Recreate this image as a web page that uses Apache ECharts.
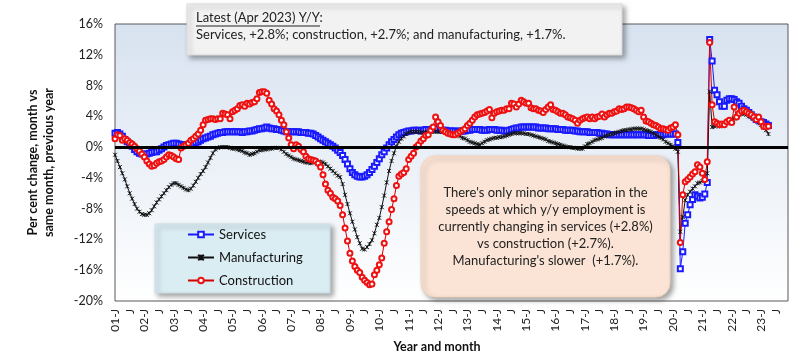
<!DOCTYPE html>
<html><head><meta charset="utf-8">
<script src="https://cdn.jsdelivr.net/npm/echarts@6/dist/echarts.min.js"></script>
<style>html,body{margin:0;padding:0;background:#fff}#c{width:800px;height:359px}</style>
</head><body><div id="c"></div>
<script>
// Months Jan 2001 .. Dec 2023 (axis range); data runs Jan 2001 .. Apr 2023
const categories = [];
for (let y = 2001; y <= 2023; y++) for (let m = 1; m <= 12; m++) categories.push(y + '-' + String(m).padStart(2, '0'));

// one label every 6 months (Jan / Jul)
const tickLabels = ['01-J','J','02-J','J','03-J','J','04-J','J','05-J','J','06-J','J','07-J','J','08-J','J',
  '09-J','J','10-J','J','11-J','J','12-J','J','13-J','J','14-J','J','15-J','J','16-J','J','17-J','J',
  '18-J','J','19-J','J','20-J','J','21-J','J','22-J','J','23-J','J'];

const services = [
  1.8, 1.9, 1.7, 1.4, 1.0, 0.7, 0.4, 0.1, -0.3, -0.6, -0.8, -0.9,
  -1.0, -0.9, -0.8, -0.7, -0.6, -0.6, -0.4, -0.2, 0.0, 0.2, 0.3, 0.4,
  0.5, 0.5, 0.4, 0.3, 0.3, 0.2, 0.3, 0.3, 0.4, 0.6, 0.7, 0.9,
  1.1, 1.2, 1.3, 1.4, 1.6, 1.7, 1.8, 1.9, 1.9, 2.0, 2.0, 2.0,
  2.0, 2.0, 2.0, 2.0, 1.9, 2.0, 2.0, 2.1, 2.1, 2.2, 2.3, 2.4,
  2.4, 2.5, 2.6, 2.5, 2.4, 2.4, 2.3, 2.3, 2.2, 2.1, 2.0, 2.0,
  2.0, 2.0, 2.0, 2.0, 1.9, 1.9, 1.9, 1.8, 1.8, 1.7, 1.5, 1.3,
  1.1, 0.9, 0.7, 0.5, 0.3, 0.1, -0.1, -0.4, -0.7, -1.1, -1.6, -2.2,
  -2.8, -3.3, -3.6, -3.8, -3.9, -3.9, -3.8, -3.6, -3.3, -2.9, -2.5, -2.0,
  -1.5, -1.0, -0.6, -0.1, 0.3, 0.7, 1.0, 1.3, 1.6, 1.8, 1.9, 2.0,
  2.1, 2.1, 2.2, 2.2, 2.2, 2.1, 2.2, 2.3, 2.3, 2.3, 2.4, 2.5,
  2.4, 2.3, 2.2, 2.2, 2.1, 2.1, 2.1, 2.1, 2.0, 2.1, 2.1, 2.1,
  2.2, 2.2, 2.3, 2.3, 2.3, 2.3, 2.2, 2.2, 2.2, 2.3, 2.3, 2.3,
  2.2, 2.2, 2.2, 2.1, 2.1, 2.2, 2.3, 2.4, 2.5, 2.5, 2.6, 2.6,
  2.6, 2.6, 2.6, 2.6, 2.6, 2.5, 2.5, 2.5, 2.5, 2.4, 2.4, 2.4,
  2.4, 2.3, 2.3, 2.3, 2.2, 2.2, 2.2, 2.2, 2.1, 2.1, 2.0, 2.0,
  2.0, 2.0, 1.9, 1.9, 1.9, 1.9, 1.8, 1.8, 1.7, 1.7, 1.6, 1.6,
  1.6, 1.6, 1.6, 1.6, 1.6, 1.6, 1.6, 1.6, 1.6, 1.6, 1.6, 1.6,
  1.6, 1.6, 1.5, 1.5, 1.5, 1.6, 1.6, 1.6, 1.6, 1.7, 1.7, 1.7,
  1.7, 1.7, 0.6, -15.8, -13.6, -9.9, -8.8, -7.5, -6.8, -6.2, -6.4, -6.6,
  -6.5, -6.1, -4.6, 14.0, 11.2, 7.4, 6.8, 5.9, 5.3, 5.3, 6.1, 6.3,
  6.3, 6.2, 5.9, 5.7, 5.3, 5.0, 4.8, 4.5, 4.2, 3.9, 3.6, 3.5,
  3.3, 3.2, 3.0, 2.8
];

const manufacturing = [
  -1.0, -1.8, -2.6, -3.4, -4.2, -5.1, -6.0, -6.7, -7.4, -8.0, -8.4, -8.7,
  -8.8, -8.8, -8.6, -8.2, -7.7, -7.2, -6.8, -6.4, -6.0, -5.6, -5.2, -4.9,
  -4.7, -4.7, -4.9, -5.1, -5.3, -5.5, -5.6, -5.4, -5.0, -4.5, -4.0, -3.5,
  -3.1, -2.6, -2.0, -1.4, -0.8, -0.3, -0.1, 0.0, 0.0, 0.0, 0.0, -0.1,
  -0.2, -0.2, -0.3, -0.4, -0.5, -0.7, -0.8, -1.0, -0.9, -0.8, -0.6, -0.4,
  -0.4, -0.3, -0.3, -0.2, -0.2, -0.1, -0.1, -0.1, -0.3, -0.6, -0.9, -1.1,
  -1.3, -1.5, -1.6, -1.7, -1.8, -1.9, -2.0, -2.0, -2.1, -2.0, -1.9, -1.9,
  -1.9, -2.0, -2.2, -2.5, -2.8, -3.1, -3.4, -3.7, -3.9, -4.8, -6.2, -7.4,
  -8.6, -9.7, -10.7, -11.7, -12.5, -13.2, -13.3, -13.0, -12.6, -12.1, -11.2, -10.1,
  -9.2, -7.8, -6.3, -4.6, -3.1, -1.8, -0.8, 0.1, 0.7, 1.1, 1.4, 1.7,
  1.9, 2.0, 2.0, 2.0, 2.0, 1.9, 1.9, 1.9, 1.9, 2.0, 2.0, 2.0,
  2.0, 2.0, 2.0, 1.9, 1.9, 1.8, 1.7, 1.7, 1.6, 1.4, 1.2, 1.1,
  0.9, 0.7, 0.6, 0.5, 0.4, 0.3, 0.5, 0.7, 0.9, 1.0, 1.1, 1.2,
  1.2, 1.3, 1.3, 1.4, 1.5, 1.6, 1.7, 1.8, 1.8, 1.8, 1.8, 1.8,
  1.7, 1.7, 1.6, 1.5, 1.4, 1.3, 1.2, 1.1, 1.0, 0.8, 0.7, 0.6,
  0.5, 0.4, 0.3, 0.2, 0.1, 0.0, 0.0, -0.1, -0.1, -0.2, -0.2, -0.2,
  0.1, 0.4, 0.5, 0.7, 0.9, 1.0, 1.1, 1.2, 1.4, 1.5, 1.6, 1.7,
  1.8, 1.9, 2.0, 2.1, 2.2, 2.2, 2.3, 2.3, 2.4, 2.4, 2.4, 2.4,
  2.3, 2.2, 2.1, 2.0, 1.8, 1.6, 1.4, 1.2, 1.0, 0.7, 0.5, 0.3,
  0.1, -0.2, -0.6, -11.0, -9.1, -6.9, -6.2, -5.8, -5.4, -5.1, -4.7, -4.6,
  -4.4, -4.1, -3.4, 7.2, 2.6, 2.7, 2.8, 2.7, 2.9, 3.0, 3.1, 3.3,
  3.5, 3.7, 3.9, 4.2, 4.4, 4.3, 4.2, 4.0, 3.9, 3.7, 3.5, 3.2,
  2.9, 2.5, 2.2, 1.7
];

const construction = [
  1.1, 1.6, 1.5, 0.9, 1.1, 0.9, 0.6, 0.4, 0.1, -0.2, -0.5, -0.9,
  -1.3, -1.8, -2.2, -2.5, -2.4, -2.1, -1.9, -1.8, -1.6, -1.3, -1.0, -1.1,
  -1.3, -1.5, -1.6, -0.1, 0.1, 0.3, 0.5, 0.9, 1.1, 1.4, 1.7, 2.2,
  2.9, 3.5, 3.6, 3.7, 3.7, 3.6, 3.7, 3.7, 4.4, 4.3, 4.2, 3.7,
  4.6, 4.8, 5.0, 5.4, 5.5, 5.3, 5.7, 5.6, 5.8, 5.9, 6.3, 7.1,
  7.2, 7.2, 7.0, 6.1, 5.6, 5.0, 4.7, 4.2, 3.5, 2.9, 2.0, 1.2,
  0.3, -0.2, 0.3, 0.1, -0.3, -0.6, -1.2, -1.5, -1.6, -1.7, -1.8, -2.1,
  -2.6, -3.6, -4.8, -5.6, -6.0, -6.5, -6.7, -7.0, -7.6, -8.8, -10.5, -12.2,
  -13.8, -14.8, -15.5, -16.0, -16.3, -16.9, -17.3, -17.6, -17.9, -17.8, -16.6, -16.0,
  -15.3, -14.4, -12.5, -11.0, -9.7, -8.1, -6.7, -5.0, -3.8, -3.5, -3.3, -2.8,
  -1.6, -1.2, -0.8, 0.0, 0.3, 0.8, 1.1, 1.5, 1.6, 2.2, 2.6, 3.9,
  3.3, 2.8, 2.2, 2.0, 1.8, 1.7, 1.6, 1.6, 1.8, 2.0, 2.2, 2.4,
  2.8, 3.1, 3.5, 3.9, 4.2, 4.3, 4.4, 4.5, 4.7, 4.9, 3.8, 4.4,
  4.6, 4.7, 4.8, 4.8, 5.0, 5.0, 5.7, 5.6, 5.2, 5.6, 6.1, 5.9,
  5.7, 5.7, 5.1, 5.0, 5.0, 4.8, 4.7, 4.5, 4.9, 5.2, 5.5, 4.9,
  4.8, 4.6, 4.4, 4.4, 4.2, 3.9, 3.8, 3.7, 3.5, 3.1, 3.5, 3.7,
  3.8, 3.9, 3.7, 3.9, 3.7, 3.9, 4.0, 4.3, 3.9, 4.2, 4.4, 4.4,
  4.6, 4.7, 5.0, 4.9, 5.0, 5.2, 5.2, 5.1, 5.0, 4.8, 4.6, 4.8,
  3.9, 3.4, 3.3, 3.1, 2.9, 2.8, 2.6, 2.4, 2.4, 2.3, 2.2, 2.5,
  2.6, 2.9, 1.6, -12.4, -6.2, -4.5, -4.2, -3.9, -3.5, -3.2, -2.3, -2.6,
  -3.4, -4.2, -1.9, 13.6, 5.5, 3.3, 3.1, 2.9, 3.0, 2.9, 3.3, 3.5,
  3.2, 5.2, 3.9, 4.4, 4.7, 4.8, 4.6, 4.4, 4.2, 3.9, 3.6, 3.9,
  3.3, 2.7, 2.6, 2.7
];

const FONT = 'Lato, "Open Sans", sans-serif';
const chart = echarts.init(document.getElementById('c'), null, {renderer: 'canvas'});
const shadow = {shadowBlur: 5, shadowOffsetX: 3, shadowOffsetY: 3, shadowColor: 'rgba(0,0,0,0.35)'};

chart.setOption({
  animation: false,
  textStyle: {fontFamily: FONT},
  grid: {
    left: 115, right: 12, top: 24, bottom: 58, show: true,
    borderColor: '#595959', borderWidth: 1,
    backgroundColor: {type: 'linear', x: 0, y: 0, x2: 0, y2: 1,
      colorStops: [{offset: 0, color: '#d7e2f0'}, {offset: 1, color: '#ffffff'}]}
  },
  xAxis: {
    type: 'category', data: categories, boundaryGap: false,
    axisLine: {show: false}, axisTick: {show: false}, splitLine: {show: false},
    axisLabel: {
      interval: 5, rotate: 90, margin: 8, fontSize: 12, color: '#222', fontFamily: FONT,
      formatter: (v, i) => tickLabels[Math.round(i / 6)]
    }
  },
  yAxis: {
    type: 'value', min: -20, max: 16, interval: 4,
    axisLine: {show: false}, axisTick: {show: false}, splitLine: {show: false},
    axisLabel: {formatter: '{value}%', fontSize: 12.5, color: '#222', margin: 12, fontFamily: FONT},
    name: 'Per cent change, month vs\nsame month, previous year',
    nameLocation: 'middle', nameRotate: 90, nameGap: 58,
    nameTextStyle: {fontSize: 12.5, fontWeight: 'bold', color: '#111', lineHeight: 16, fontFamily: FONT}
  },
  legend: {
    z: 80, orient: 'vertical', left: 187, top: 228, padding: 0, itemGap: 10, itemWidth: 26, itemHeight: 7,
    textStyle: {fontSize: 13, color: '#111', fontFamily: FONT},
    data: ['Services', 'Manufacturing', 'Construction']
  },
  series: [
    {
      name: 'Services', type: 'line', data: services, showAllSymbol: true,
      symbol: 'emptyRect', symbolSize: 5,
      lineStyle: {color: '#1a1aff', width: 1},
      itemStyle: {color: '#1a1aff', borderColor: '#1a1aff', borderWidth: 0.9},
      markLine: {
        silent: true, symbol: 'none', label: {show: false},
        lineStyle: {color: '#000', width: 3, type: 'solid'},
        data: [{yAxis: 0}]
      }
    },
    {
      name: 'Manufacturing', type: 'line', data: manufacturing, showAllSymbol: true,
      symbol: 'path://M0,0L10,10M10,0L0,10M5,0L5,10', symbolSize: 4,
      lineStyle: {color: '#111', width: 1},
      itemStyle: {color: 'rgba(0,0,0,0)', borderColor: '#111', borderWidth: 0.9}
    },
    {
      name: 'Construction', type: 'line', data: construction, showAllSymbol: true,
      symbol: 'emptyCircle', symbolSize: 5,
      lineStyle: {color: '#d40000', width: 1},
      itemStyle: {color: '#ee1111', borderColor: '#ee1111', borderWidth: 0.9}
    }
  ],
  graphic: [
    {type: 'rect', z: 100, shape: {x: 187, y: 4, width: 435, height: 51},
     style: Object.assign({fill: '#f2f2f2', stroke: '#d9d9d9', lineWidth: 1}, shadow)},
    {type: 'text', z: 101, x: 196, y: 18,
     style: {text: 'Latest (Apr 2023) Y/Y:', font: '13px ' + FONT, fill: '#222', verticalAlign: 'middle'}},
    {type: 'line', z: 101, shape: {x1: 196, y1: 26, x2: 320, y2: 26}, style: {stroke: '#222', lineWidth: 1}},
    {type: 'text', z: 101, x: 196, y: 35,
     style: {text: 'Services, +2.8%; construction, +2.7%; and manufacturing, +1.7%.', font: '13px ' + FONT, fill: '#222', verticalAlign: 'middle'}},
    {type: 'rect', z: 50, shape: {x: 155, y: 224, width: 175, height: 69},
     style: Object.assign({fill: '#daedf3', stroke: '#c9dde6', lineWidth: 1}, shadow)},
    {type: 'rect', z: 100, shape: {x: 421, y: 156, width: 249, height: 141, r: 14},
     style: Object.assign({fill: '#fbe4d5', stroke: '#f3d2bc', lineWidth: 1}, shadow)},
    {type: 'text', z: 101, x: 545.5, y: 227,
     style: {text: "There's only minor separation in the\nspeeds at which y/y employment is\ncurrently changing in services (+2.8%)\nvs construction (+2.7%).\nManufacturing's slower  (+1.7%).",
             font: '13px ' + FONT, fill: '#222', align: 'center', verticalAlign: 'middle', lineHeight: 17}},
    {type: 'text', z: 101, x: 437, y: 347,
     style: {text: 'Year and month', font: 'bold 12.5px ' + FONT, fill: '#111', align: 'center', verticalAlign: 'middle'}}
  ]
});
</script></body></html>
